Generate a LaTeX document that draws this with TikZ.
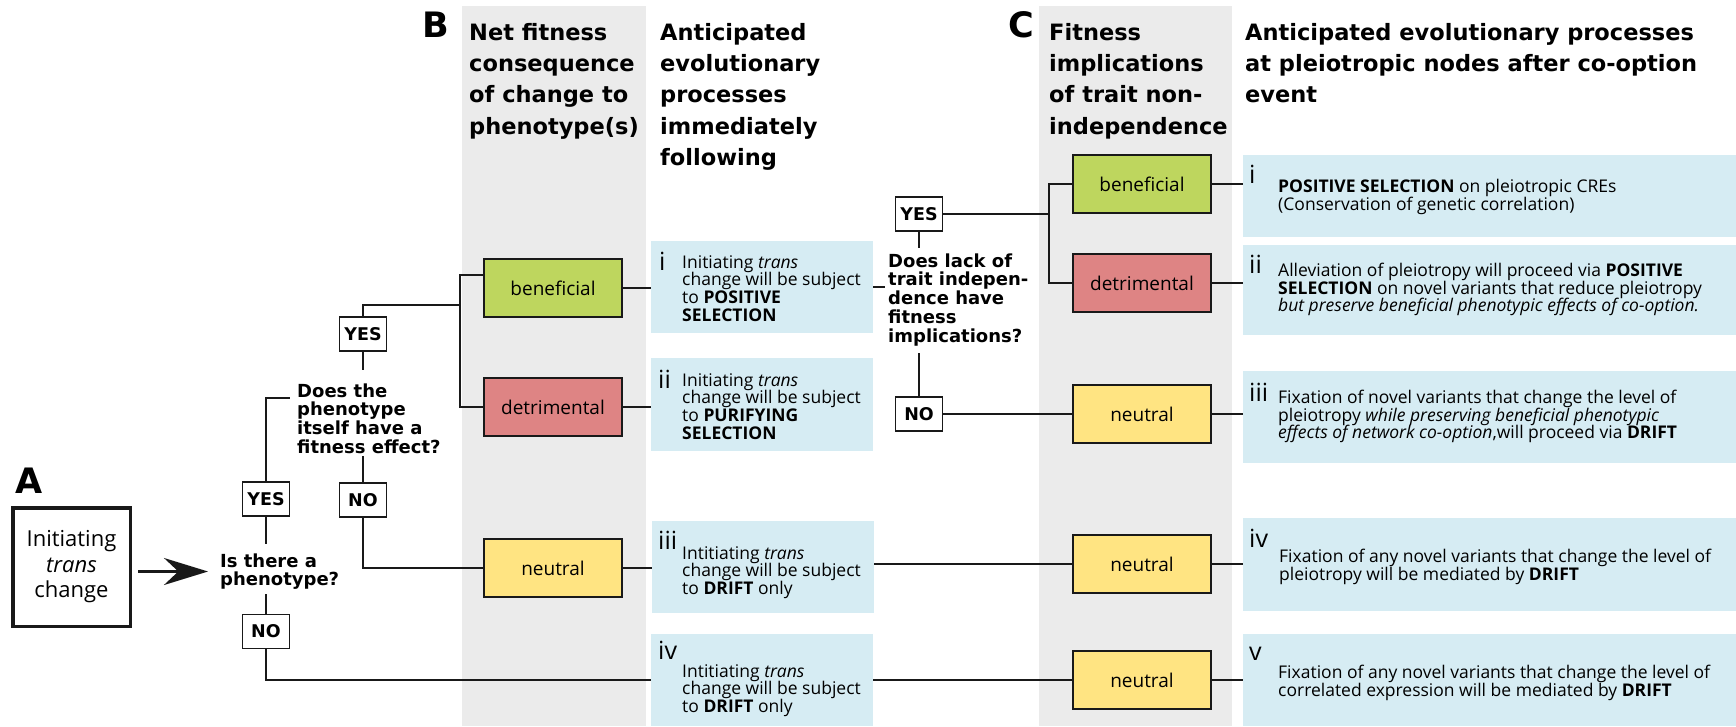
\documentclass[tikz,border=0pt]{standalone}
\usepackage{fontspec}
\setmainfont{Open Sans}
\newfontfamily\dvs{DejaVu Sans}
\usetikzlibrary{arrows.meta}
\definecolor{bandgray}{RGB}{235,235,235}
\definecolor{bgreen}{RGB}{190,214,94}
\definecolor{bred}{RGB}{222,132,132}
\definecolor{byellow}{RGB}{255,228,130}
\definecolor{bblue}{RGB}{214,236,243}
\definecolor{ink}{RGB}{25,25,25}
\newcommand\mystr[1]{\rule{0pt}{#1pt}}
\lineskiplimit=-50pt
\begin{document}
\begin{tikzpicture}[x=1pt,y=-1pt,
  conn/.style={draw=ink,line width=1.8pt},
  fitbox/.style={draw=ink,line width=1.8pt,minimum width=138pt,minimum height=58pt,inner sep=0pt,font=\fontsize{19}{19}\selectfont},
  yn/.style={draw=ink,line width=1.8pt,fill=white,minimum width=47pt,minimum height=34pt,inner sep=0pt,font=\dvs\bfseries\fontsize{17.5}{17.5}\selectfont},
  title/.style={anchor=north west,inner sep=0pt,align=left,font=\dvs\bfseries\fontsize{22.5}{31.3}\selectfont},
  quest/.style={anchor=north west,inner sep=0pt,align=left,font=\dvs\bfseries\fontsize{18}{18.7}\selectfont},
  body/.style={anchor=north west,inner sep=0pt,align=left,font=\fontsize{17.5}{17.6}\selectfont},
  numer/.style={anchor=base west,inner sep=0pt,font=\fontsize{25}{25}\selectfont},
  panel/.style={anchor=base west,inner sep=0pt,font=\dvs\bfseries\fontsize{35}{35}\selectfont},
  bluebox/.style={fill=bblue,inner sep=0pt},
]
\useasboundingbox (0,0) rectangle (1736,726);
% gray bands
\fill[bandgray] (462,6) rectangle (646,726);
\fill[bandgray] (1039,6) rectangle (1232,726);

% panel labels
\node[panel] (lA) at (15,493) {A};
\node[panel] (lB) at (422,37) {B};
\node[panel] (lC) at (1008,37) {C};

% titles
\node[title] (tB) at (469,22) {\mystr{18}Net fitness\\consequence\\of change to\\phenotype(s)};
\node[title] (tB2) at (660,22) {\mystr{18}Anticipated\\evolutionary\\processes\\immediately\\following};
\node[title] (tC) at (1049,22) {\mystr{18}Fitness\\implications\\of trait non-\\independence};
\node[title] (tC2) at (1245,22) {\mystr{18}Anticipated evolutionary processes\\at pleiotropic nodes after co-option\\event};

% panel A
\node[draw=ink,line width=3.5pt,minimum width=117.5pt,minimum height=118.5pt,inner sep=0pt,align=center,font=\fontsize{22}{25.5}\selectfont] (init) at (71.5,567) {Initiating\\\textit{trans}\\change};

% question 1
\node[quest] (q1) at (220,553) {\mystr{14}Is there a\\phenotype?};
\draw[ink,line width=2.5pt,-{Stealth[length=44pt,width=27pt]}] (init.east |- q1.west) ++(6,0) -- ([xshift=-12pt]q1.west);

\node[yn] (yes1) at (266,499) {YES};
\node[yn] (no1) at (266,631.5) {NO};
\coordinate (q1t) at (266,544);
\coordinate (q1b) at (266,594);
\draw[conn] (yes1.south) -- (q1t);
\draw[conn] (q1b) -- (no1.north);

% question 2
\node[quest] (q2) at (297,383) {\mystr{14}Does the\\phenotype\\itself have a\\fitness effect?};
\coordinate (q2w) at (290,398);
\draw[conn] (yes1.north) |- (q2w);
\node[yn] (yes2) at (363,334) {YES};
\node[yn] (no2) at (363,500) {NO};
\coordinate (q2t) at (363,370);
\coordinate (q2b) at (363,456);
\draw[conn] (yes2.south) -- (q2t);
\draw[conn] (q2b) -- (no2.north);

% B colored boxes
\node[fitbox,fill=bgreen] (ben1) at (553,288) {beneficial};
\node[fitbox,fill=bred] (det1) at (553,407) {detrimental};
\node[fitbox,fill=byellow] (neu1) at (553,568) {neutral};

\coordinate (bTop) at (460,275);
\coordinate (bJoin) at (460,305);
\draw[conn] (ben1.west |- bTop) -- (bTop) |- (det1.west);
\draw[conn] (yes2.north) |- (bJoin);
\draw[conn] (no2.south) |- (neu1.west);

% B blue boxes
\node[bluebox,minimum width=222pt,minimum height=92pt] (bi) at (762,287) {};
\node[bluebox,minimum width=222pt,minimum height=93pt] (bii) at (762,404.5) {};
\node[bluebox,minimum width=222pt,minimum height=92pt] (biii) at (763,567) {};
\node[bluebox,minimum width=222pt,minimum height=92pt] (biv) at (762,680) {};

\draw[conn] (ben1.east) -- (ben1.east -| bi.west);
\draw[conn] (det1.east) -- (det1.east -| bii.west);
\draw[conn] (neu1.east) -- (neu1.east -| biii.west);
\draw[conn] (no1.south) |- (biv.west);

\node[numer] (ni) at (659,270) {i};
\node[body] (ti) at (682,255) {\mystr{13}Initiating \textit{trans}\\change will be subject\\to \textbf{POSITIVE}\\\textbf{SELECTION}};
\node[numer] (nii) at (658,388) {ii};
\node[body] (tii) at (682,373) {\mystr{13}Initiating \textit{trans}\\change will be subject\\to \textbf{PURIFYING}\\\textbf{SELECTION}};
\node[numer] (niii) at (658,549) {iii};
\node[body] (tiii) at (682,546) {\mystr{13}Intitiating \textit{trans}\\change will be subject\\to \textbf{DRIFT} only};
\node[numer] (niv) at (658,659) {iv};
\node[body] (tiv) at (682,664) {\mystr{13}Intitiating \textit{trans}\\change will be subject\\to \textbf{DRIFT} only};

% question 3
\node[quest] (q3) at (888,253) {\mystr{14}Does lack of\\trait indepen-\\dence have\\fitness\\implications?};
\coordinate (q3w) at (885,287);
\draw[conn] (bi.east) -- (q3w);
\node[yn] (yes3) at (919,214) {YES};
\node[yn] (no3) at (919,414) {NO};
\coordinate (q3t) at (919,248);
\coordinate (q3b) at (919,353);
\draw[conn] (yes3.south) -- (q3t);
\draw[conn] (q3b) -- (no3.north);

% C colored boxes
\node[fitbox,fill=bgreen] (ben2) at (1142,184) {beneficial};
\node[fitbox,fill=bred] (det2) at (1142,283) {detrimental};
\node[fitbox,fill=byellow] (neu2) at (1142,414) {neutral};
\node[fitbox,fill=byellow] (neu3) at (1142,564) {neutral};
\node[fitbox,fill=byellow] (neu4) at (1142,680) {neutral};

\coordinate (cTop) at (1049,184);
\draw[conn] (ben2.west) -- (cTop) |- (det2.west);
\draw[conn] (yes3.east) -- (yes3.east -| cTop);
\draw[conn] (no3.east) -- (neu2.west);
\draw[conn] (neu3.west -| biii.east) -- (neu3.west);
\draw[conn] (neu4.west -| biv.east) -- (neu4.west);

% final blue boxes
\node[bluebox,minimum width=493pt,minimum height=82pt] (fi) at (1489.5,196) {};
\node[bluebox,minimum width=493pt,minimum height=90pt] (fii) at (1489.5,290) {};
\node[bluebox,minimum width=493pt,minimum height=92pt] (fiii) at (1489.5,417) {};
\node[bluebox,minimum width=493pt,minimum height=93pt] (fiv) at (1489.5,564.5) {};
\node[bluebox,minimum width=493pt,minimum height=92pt] (fv) at (1489.5,680) {};

\draw[conn] (ben2.east) -- (ben2.east -| fi.west);
\draw[conn] (det2.east) -- (det2.east -| fii.west);
\draw[conn] (neu2.east) -- (neu2.east -| fiii.west);
\draw[conn] (neu3.east) -- (neu3.east -| fiv.west);
\draw[conn] (neu4.east) -- (neu4.east -| fv.west);

\node[numer] (fni) at (1249,183) {i};
\node[body] (fti) at (1278,179) {\mystr{13}\textbf{POSITIVE SELECTION} on pleiotropic CREs\\(Conservation of genetic correlation)};
\node[numer] (fnii) at (1249,273) {ii};
\node[body] (ftii) at (1278,263) {\mystr{13}Alleviation of pleiotropy will proceed via \textbf{POSITIVE}\\\textbf{SELECTION} on novel variants that reduce pleiotropy\\\textit{but preserve beneficial phenotypic effects of co-option.}};
\node[numer] (fniii) at (1249,401) {iii};
\node[body] (ftiii) at (1278,390) {\mystr{13}Fixation of novel variants that change the level of\\pleiotropy \textit{while preserving beneficial phenotypic}\\\textit{effects of network co-option},will proceed via \textbf{DRIFT}};
\node[numer] (fniv) at (1249,547) {iv};
\node[body] (ftiv) at (1279,549) {\mystr{13}Fixation of any novel variants that change the level of\\pleiotropy will be mediated by \textbf{DRIFT}};
\node[numer] (fnv) at (1249,660) {v};
\node[body] (ftv) at (1278,665) {\mystr{13}Fixation of any novel variants that change the level of\\correlated expression will be mediated by \textbf{DRIFT}};
\end{tikzpicture}
\end{document}
